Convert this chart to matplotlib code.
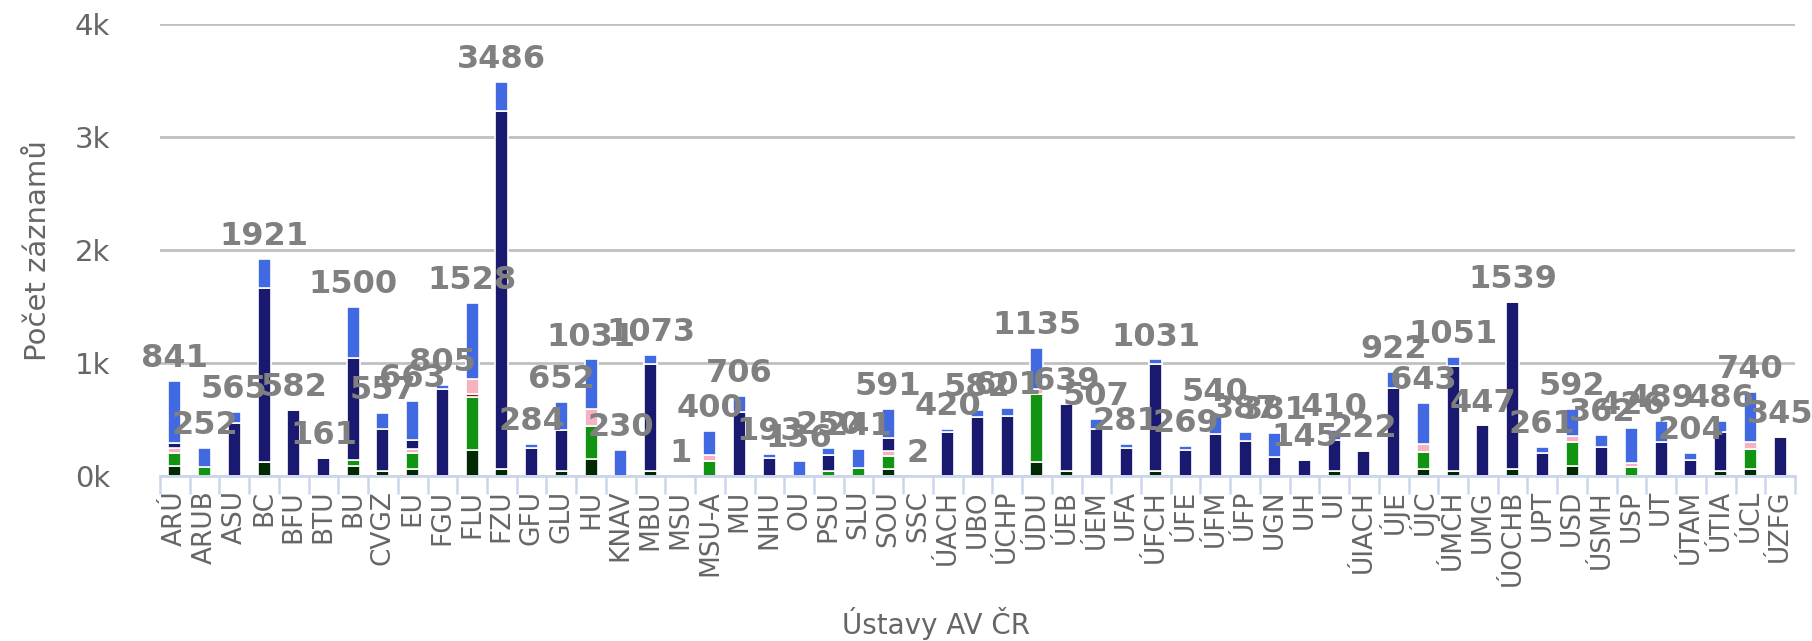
import numpy as np
from matplotlib import pyplot as plt

# categories (institutes) and the stacked series
ustavy = ["ARÚ", "ARUB", "ASU", "BC", "BFU", "BTU", "BU", "CVGZ", "EU", "FGU",
          "FLU", "FZU", "GFU", "GLU", "HU", "KNAV", "MBU", "MSU", "MSU-A", "MU",
          "NHU", "OU", "PSU", "SLU", "SOU", "SSC", "ÚACH", "UBO", "ÚCHP", "ÚDU",
          "ÚEB", "ÚEM", "UFA", "ÚFCH", "ÚFE", "ÚFM", "ÚFP", "UGN", "UH", "UI",
          "ÚIACH", "ÚJE", "ÚJC", "ÚMCH", "UMG", "ÚOCHB", "UPT", "USD", "ÚSMH", "USP",
          "UT", "ÚTAM", "ÚTIA", "ÚCL", "ÚZFG"]

s_dark = [85, 0, 0, 120, 0, 0, 85, 40, 65, 0,
          230, 60, 0, 40, 150, 0, 40, 0, 0, 0,
          0, 0, 0, 0, 60, 0, 0, 0, 0, 120,
          40, 0, 0, 40, 0, 0, 0, 0, 0, 40,
          0, 0, 65, 40, 0, 65, 0, 85, 0, 0,
          0, 0, 40, 65, 0]
s_green = [115, 80, 0, 0, 0, 0, 60, 0, 140, 0,
           465, 0, 0, 0, 290, 0, 0, 0, 135, 0,
           0, 0, 45, 70, 120, 0, 0, 0, 0, 610,
           0, 0, 0, 0, 0, 0, 0, 0, 0, 0,
           0, 0, 150, 0, 0, 0, 0, 220, 0, 80,
           0, 0, 0, 170, 0]
s_red = [0, 0, 0, 0, 0, 0, 0, 0, 0, 0,
         30, 0, 0, 0, 0, 0, 0, 0, 0, 0,
         0, 0, 0, 0, 0, 0, 0, 0, 0, 0,
         0, 0, 0, 0, 0, 0, 0, 0, 0, 0,
         0, 0, 0, 0, 0, 0, 0, 0, 0, 0,
         0, 0, 0, 0, 0]
s_pink = [50, 0, 0, 0, 0, 0, 0, 0, 35, 0,
          135, 0, 0, 0, 150, 0, 0, 0, 50, 0,
          0, 0, 0, 0, 45, 0, 0, 0, 0, 40,
          0, 0, 0, 0, 0, 0, 0, 0, 0, 0,
          0, 0, 65, 0, 0, 0, 0, 45, 0, 35,
          0, 0, 0, 70, 0]
s_navy = [40, 0, 470, 1540, 582, 161, 900, 380, 80, 770,
          0, 3170, 250, 370, 0, 0, 950, 1, 0, 570,
          155, 0, 145, 0, 110, 2, 385, 522, 531, 0,
          599, 420, 245, 950, 230, 370, 310, 170, 145, 280,
          222, 780, 0, 930, 447, 1474, 205, 0, 260, 0,
          300, 140, 350, 0, 345]
s_blue = [551, 172, 95, 261, 0, 0, 455, 137, 343, 35,
          668, 256, 34, 242, 441, 230, 83, 0, 215, 136,
          38, 136, 60, 171, 256, 0, 35, 60, 70, 365,
          0, 87, 36, 41, 39, 170, 77, 211, 0, 90,
          0, 142, 363, 81, 0, 0, 56, 242, 102, 311,
          189, 64, 96, 435, 0]

series = [s_dark, s_green, s_red, s_pink, s_navy, s_blue]
colors = ['#022a02', '#119411', '#a3121c', '#f5b3c2', '#191970', '#4169e1']

plt.rcParams['font.family'] = ['DejaVu Sans']

fig = plt.figure(figsize=(18.12, 6.41), dpi=100)
ax = fig.add_axes([160 / 1812, 1 - 476 / 641, 1635 / 1812, 452 / 641])

x = np.arange(len(ustavy))
bottom = np.zeros(len(ustavy))
for vals, col in zip(series, colors):
    vals = np.array(vals, dtype=float)
    ax.bar(x, vals, width=0.44, bottom=bottom, color=col,
           edgecolor='white', linewidth=1.2, zorder=3)
    bottom += vals

totals = bottom
for xi, t in zip(x, totals):
    ax.annotate(str(int(t)), (xi, t), xytext=(0, 10), textcoords='offset points',
                ha='center', va='baseline', fontsize=23, fontweight='bold',
                color='#808080', zorder=5)

ax.set_xlim(-0.5, len(ustavy) - 0.5)
ax.set_ylim(0, 4000)
ax.set_yticks([0, 1000, 2000, 3000, 4000])
ax.set_yticklabels(['0k', '1k', '2k', '3k', '4k'])
ax.yaxis.grid(True, color='#c0c0c0', linewidth=2)
ax.set_axisbelow(True)
ax.tick_params(axis='y', length=0, pad=36, labelsize=21, labelcolor='#666666')

ax.set_xticks(x)
ax.set_xticklabels(ustavy, rotation=90, ha='center', va='top')
ax.set_xticks(np.arange(len(ustavy) + 1) - 0.5, minor=True)
ax.tick_params(axis='x', which='major', length=0, pad=10, labelsize=19,
               labelcolor='#666666')
ax.tick_params(axis='x', which='minor', length=13, width=1.8, color='#ccd6eb')

for side in ['top', 'right', 'left']:
    ax.spines[side].set_visible(False)
ax.spines['bottom'].set_color('#ccd6eb')
ax.spines['bottom'].set_linewidth(2)
ax.spines['bottom'].set_zorder(4)

fig.text(38 / 1812, 1 - 251 / 641, 'Počet záznamů', rotation=90,
         ha='center', va='center', fontsize=21, color='#666666')
fig.text(936 / 1812, 1 - 624 / 641, 'Ústavy AV ČR',
         ha='center', va='center', fontsize=20, color='#666666')

fig.savefig('out.png', dpi=100)
